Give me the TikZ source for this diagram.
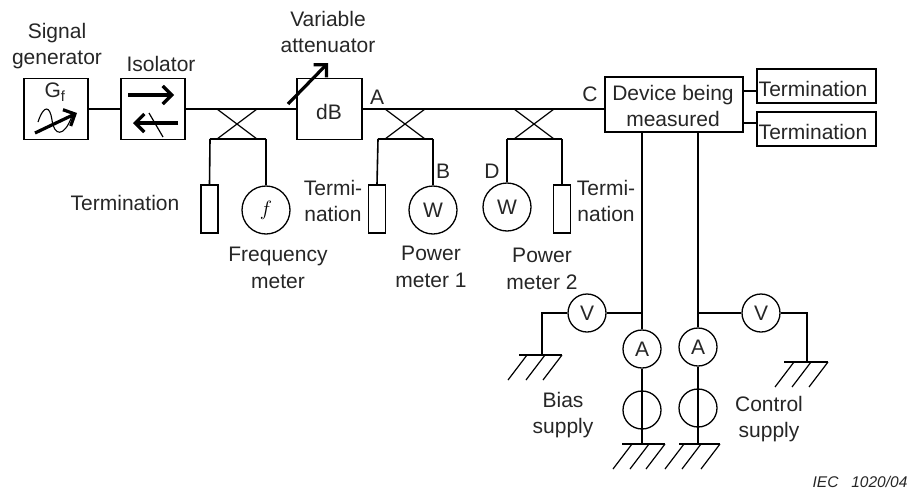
\documentclass[tikz,border=0pt]{standalone}
\usepackage{fontspec}
\setmainfont{Liberation Sans}
\usetikzlibrary{arrows.meta}
\tikzset{
    wire/.style={line width=1.6pt},
    thinwire/.style={line width=1.2pt},
    bigarrow/.style={line width=3.2pt,-{Straight Barb[length=9pt,width=18pt,line width=3.2pt]}},
    unitbox/.style={draw,line width=1.6pt,inner sep=0pt,minimum width=#1,minimum height=61pt},
    loadbox/.style={draw,line width=1.4pt,inner sep=0pt,minimum width=17pt,minimum height=48pt},
    endbox/.style={draw,line width=1.6pt,inner sep=0pt,minimum width=119pt,minimum height=34pt},
    meter/.style={draw,circle,line width=1.3pt,inner sep=0pt,minimum size=#1},
    lbl/.style={align=center,inner sep=0pt,text=black!85},
}
\begin{document}
\begin{tikzpicture}[x=1pt,y=-1pt,font=\fontsize{21}{26.5}\selectfont]
        \useasboundingbox (0,0) rectangle (910,490);

        % main line
        \node[unitbox=64pt] (gen) at (56,109) {};
        \node[unitbox=64pt] (iso) at (153,109) {};
        \node[unitbox=65pt] (att) at (329.5,109) {};
        \node[draw,line width=1.6pt,inner sep=0pt,minimum width=138pt,minimum height=55pt] (dut) at (674,104.5) {};

        \draw[wire] (gen.east) -- (iso.west);
        \draw[wire] (iso.east) -- (att.west);
        \draw[wire] (att.east) -- (dut.west |- att.east);

        % couplers
        \foreach \name/\x/\l/\r in {fa/237/210/266, fb/405/378/433, fc/534/507/562} {
            \coordinate (\name tl) at (\x-20,109);
            \coordinate (\name tr) at (\x+20,109);
            \coordinate (\name bl) at (\x-20,139);
            \coordinate (\name br) at (\x+20,139);
            \coordinate (\name l) at (\l,139);
            \coordinate (\name r) at (\r,139);
            \draw[thinwire] (\name tl) -- (\name br);
            \draw[thinwire] (\name tr) -- (\name bl);
            \draw[wire] (\name l) -- (\name r);
        }

        % coupled arms
        \node[loadbox] (loada) at (209.5,209) {};
        \node[meter=48pt] (freq) at (266,210) {\fontfamily{lmr}\fontshape{it}\selectfont $f$};
        \node[loadbox] (loadb) at (377,209) {};
        \node[meter=48pt,text=black!85] (pma) at (433,210) {W};
        \node[meter=48pt,text=black!85] (pmb) at (507,207) {W};
        \node[loadbox] (loadc) at (562,209) {};

        \draw[wire] (fal) -- (loada.north);
        \draw[wire] (far) -- (freq.north);
        \draw[wire] (fbl) -- (loadb.north);
        \draw[wire] (fbr) -- (pma.north);
        \draw[wire] (fcl) -- (pmb.north);
        \draw[wire] (fcr) -- (loadc.north);

        % device outputs
        \node[endbox] (enda) at (816.5,86) {};
        \node[endbox] (endb) at (816.5,129) {};
        \coordinate (stuba) at (743,91);
        \coordinate (stubb) at (743,123);
        \draw[wire] (stuba) -- (enda.west |- stuba);
        \draw[wire] (stubb) -- (endb.west |- stubb);

        % bias side
        \coordinate (biasdev) at (642,132);
        \coordinate (biastap) at (642,313);
        \coordinate (biascnr) at (542,313);
        \node[meter=38pt,text=black!85] (vbias) at (587,313) {V};
        \node[meter=38pt,text=black!85] (abias) at (642,349) {A};
        \node[meter=38pt] (sbias) at (642,410) {};
        \coordinate (gndva) at (542,355);
        \coordinate (gnds) at (642,444);
        \draw[wire] (biasdev) -- (abias.north);
        \draw[wire] (biastap) -- (vbias.east);
        \draw[wire] (vbias.west) -- (biascnr) -- (gndva);
        \draw[wire] (abias.south) -- (gnds);

        % control side
        \coordinate (ctrldev) at (698,132);
        \coordinate (ctrltap) at (698,313);
        \coordinate (ctrlcnr) at (807,313);
        \node[meter=38pt,text=black!85] (vctrl) at (761,313) {V};
        \node[meter=38pt,text=black!85] (actrl) at (698,347) {A};
        \node[meter=38pt] (sctrl) at (698,408) {};
        \coordinate (gndvb) at (807,362);
        \coordinate (gndt) at (698,444);
        \draw[wire] (ctrldev) -- (actrl.north);
        \draw[wire] (ctrltap) -- (vctrl.west);
        \draw[wire] (vctrl.east) -- (ctrlcnr) -- (gndvb);
        \draw[wire] (actrl.south) -- (gndt);

        % earths
        \foreach \y/\a/\b/\c/\d in {355/519/527/545/562, 444/622/632/649/665, 444/679/684/701/720, 362/784/794/811/828} {
            \draw[wire] (\a,\y) -- (\d,\y);
            \draw[thinwire] (\b,\y) -- ++(-19,25);
            \draw[thinwire] (\c,\y) -- ++(-19,25);
            \draw[thinwire] (\d,\y) -- ++(-19,25);
        }

        % symbols in the boxes
        \node[lbl] (gf) at (55,92) {G\textsubscript{f}};
        \draw[line width=1.1pt] (38,122) .. controls (44,104) and (50,106) .. (52,120)
                              .. controls (54,136) and (64,138) .. (72,116);
        \draw[bigarrow] (35,133) -- (77,113);
        \draw[bigarrow] (128,95) -- (174,95);
        \draw[bigarrow] (178,123) -- (133,123);
        \draw[thinwire] (149,113) -- (163,137);
        \draw[bigarrow] (288,104) -- (328,63);
        \node[lbl] (db) at (329,112) {dB};

        % labels
        \node[lbl] (lblgen) at (57,46) {Signal\\generator};
        \node[lbl] (lbliso) at (161,64) {Isolator};
        \node[lbl] (lblatt) at (328,32) {Variable\\attenuator};
        \node[lbl] (lbla) at (377,97) {A};
        \node[lbl] (lblb) at (443,171) {B};
        \node[lbl] (lblc) at (590,94) {C};
        \node[lbl] (lbld) at (492,171) {D};
        \node[lbl] (lbldut) at (673,106) {Device being\\measured};
        \node[lbl] (lblenda) at (813,89) {Termination};
        \node[lbl] (lblendb) at (813,132) {Termination};
        \node[lbl] (lbltera) at (125,203) {Termination};
        \node[lbl] (lblterb) at (333,201) {Termi-\\nation};
        \node[lbl] (lblterc) at (606,201) {Termi-\\nation};
        \node[lbl] (lblfreq) at (278,268) {Frequency\\meter};
        \node[lbl] (lblpma) at (431,267) {Power\\meter 1};
        \node[lbl] (lblpmb) at (542,269) {Power\\meter 2};
        \node[lbl] (lblbias) at (563,415) {Bias\\supply};
        \node[lbl] (lblctrl) at (769,419) {Control\\supply};
        \node[lbl,font=\fontsize{15.5}{18}\selectfont\itshape] (lbliec) at (860,482) {IEC\ \ \ 1020/04};
    \end{tikzpicture}
\end{document}
